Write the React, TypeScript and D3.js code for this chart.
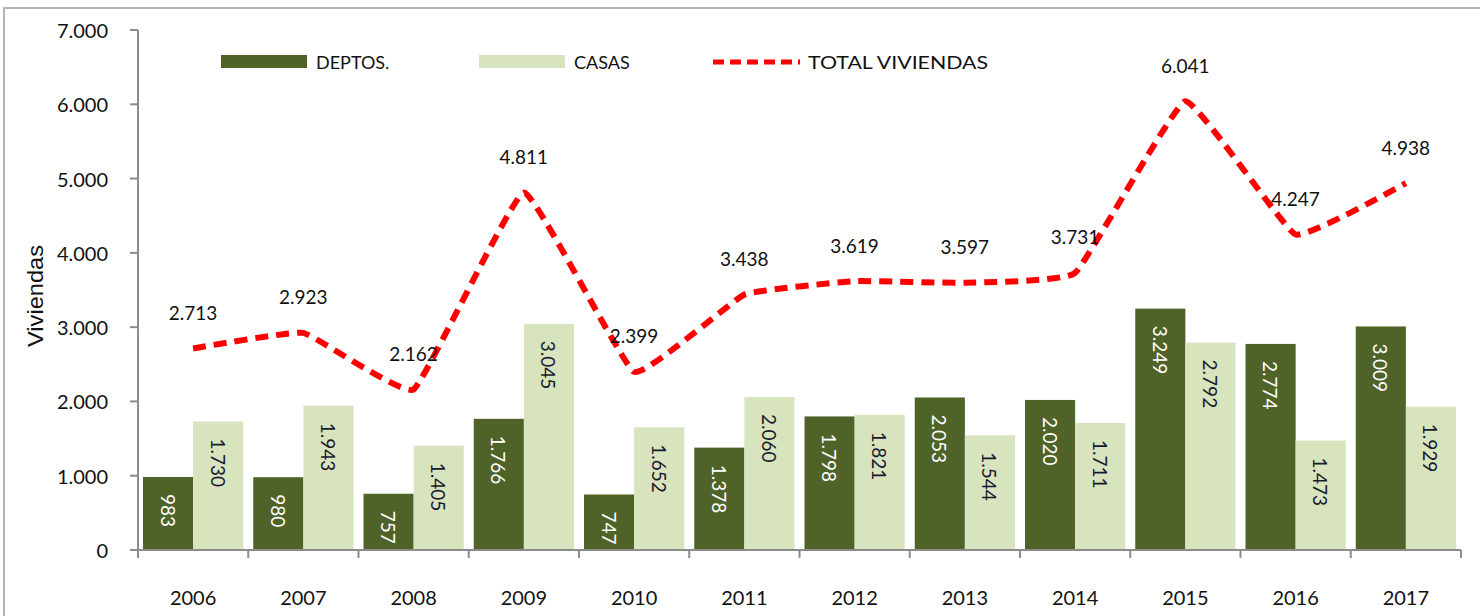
import * as d3 from "d3";

const years = ["2006", "2007", "2008", "2009", "2010", "2011", "2012", "2013", "2014", "2015", "2016", "2017"];
const deptos = [983, 980, 757, 1766, 747, 1378, 1798, 2053, 2020, 3249, 2774, 3009];
const casas = [1730, 1943, 1405, 3045, 1652, 2060, 1821, 1544, 1711, 2792, 1473, 1929];
const total = [2713, 2923, 2162, 4811, 2399, 3438, 3619, 3597, 3731, 6041, 4247, 4938];
const yTicks = [0, 1000, 2000, 3000, 4000, 5000, 6000, 7000];

const W = 1480, H = 616;
const margin = { top: 30, right: 19, bottom: 66, left: 138 };
const font = "Lato, 'Open Sans', sans-serif";
const fmt = (v: number) => d3.format(",")(v).replace(/,/g, ".");

export default function App() {
  const x = d3.scaleBand().domain(years).range([margin.left, W - margin.right]);
  const y = d3.scaleLinear().domain([0, 7000]).range([H - margin.bottom, margin.top]);
  const inner = d3.scaleBand().domain(["d", "c"]).range([0, x.bandwidth()]).paddingOuter(0.1);
  const line = d3.line<number>()
    .x((_, i) => x(years[i])! + x.bandwidth() / 2)
    .y(d => y(d))
    .curve(d3.curveCardinal.tension(0.7));
  const y0 = y(0);
  const axisColor = "#8c8c8c";

  const barLabel = (cx: number, top: number, v: number, fill: string) => (
    <text transform={`translate(${cx},${top + 17}) rotate(90)`} fontSize={19} fill={fill}
      dominantBaseline="central" fontFamily={font}>{fmt(v)}</text>
  );

  return (
    <svg width={W} height={H} style={{ position: "absolute", left: 0, top: 0, background: "#fff" }}>
      <rect x={4} y={8} width={W} height={H} fill="none" stroke="#b4b4b4" strokeWidth={2} />

      {/* bars */}
      {years.map((yr, i) => {
        const bx = x(yr)!;
        const dx = bx + inner("d")!, cx = bx + inner("c")!, bw = inner.bandwidth();
        return (
          <g key={yr}>
            <rect x={dx} y={y(deptos[i])} width={bw} height={y0 - y(deptos[i])} fill="#4f6228" />
            <rect x={cx} y={y(casas[i])} width={bw} height={y0 - y(casas[i])} fill="#d7e4bd" />
            {barLabel(dx + bw / 2, y(deptos[i]), deptos[i], "#ffffff")}
            {barLabel(cx + bw / 2, y(casas[i]), casas[i], "#1a1a2e")}
          </g>
        );
      })}

      {/* axes */}
      <line x1={margin.left} x2={margin.left} y1={margin.top} y2={y0} stroke={axisColor} strokeWidth={2} />
      <line x1={margin.left} x2={W - margin.right} y1={y0} y2={y0} stroke={axisColor} strokeWidth={2} />
      {yTicks.map(t => (
        <g key={t}>
          <line x1={margin.left - 8} x2={margin.left} y1={y(t)} y2={y(t)} stroke={axisColor} strokeWidth={2} />
          <text x={108} y={y(t)} textAnchor="end" dominantBaseline="central" fontSize={20}
            fontFamily={font} fill="#111">{fmt(t)}</text>
        </g>
      ))}
      {years.map(yr => (
        <text key={yr} x={x(yr)! + x.bandwidth() / 2} y={597} textAnchor="middle" dominantBaseline="central"
          fontSize={20} fontFamily={font} fill="#111">{yr}</text>
      ))}
      {[...years.map(yr => x(yr)!), W - margin.right].map((tx, i) => (
        <line key={i} x1={tx} x2={tx} y1={y0} y2={y0 + 8} stroke={axisColor} strokeWidth={2} />
      ))}
      <text transform="translate(35,296) rotate(-90)" textAnchor="middle"
        dominantBaseline="central" fontSize={22} fontFamily="'Liberation Sans', Arial, sans-serif"
        textLength={102} lengthAdjust="spacingAndGlyphs" fill="#111">Viviendas</text>

      {/* total line */}
      <path d={line(total)!} fill="none" stroke="#ff0000" strokeWidth={6} strokeDasharray="13,8" />
      {total.map((v, i) => (
        <text key={i} x={x(years[i])! + x.bandwidth() / 2} y={y(v) - 36} textAnchor="middle"
          dominantBaseline="central" fontSize={19} fontFamily={font} fill="#111">{fmt(v)}</text>
      ))}

      {/* legend */}
      <rect x={221} y={55} width={86} height={13} fill="#4f6228" />
      <text x={316} y={62} dominantBaseline="central" fontSize={18} fontFamily={font} fill="#111">DEPTOS.</text>
      <rect x={479} y={55} width={86} height={13} fill="#d7e4bd" />
      <text x={574} y={62} dominantBaseline="central" fontSize={18} fontFamily={font} fill="#111">CASAS</text>
      <line x1={713} x2={800} y1={62} y2={62} stroke="#ff0000" strokeWidth={5} strokeDasharray="11,6" />
      <text x={808} y={62} dominantBaseline="central" fontSize={18} fontFamily={font} fill="#111"
        textLength={180} lengthAdjust="spacingAndGlyphs">TOTAL VIVIENDAS</text>
    </svg>
  );
}
